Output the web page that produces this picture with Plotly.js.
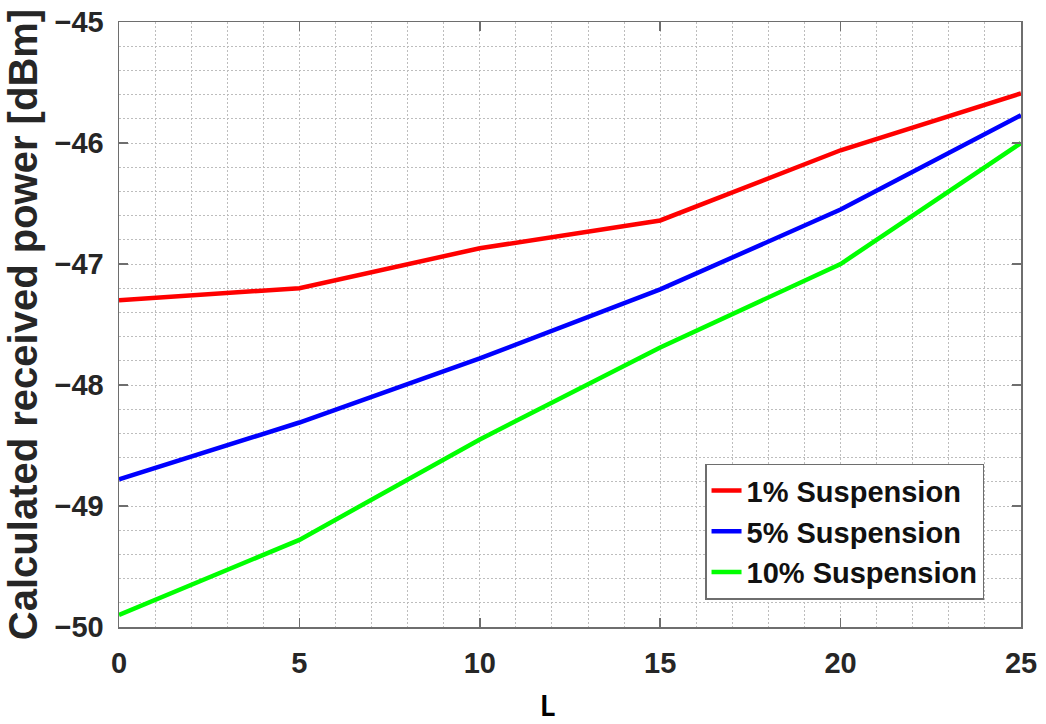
<!DOCTYPE html>
<html>
<head>
<meta charset="utf-8">
<script src="https://cdn.plot.ly/plotly-3.0.1.min.js"></script>
<style>
  html, body { margin: 0; padding: 0; background: #fff; }
  #chart { width: 1046px; height: 724px; }
</style>
</head>
<body>
<div id="chart"></div>
<script>
// Sweep of L and the calculated received power for each suspension level
const L = [0, 5, 10, 15, 20, 25];
const suspension1 = [-47.30, -47.20, -46.87, -46.64, -46.06, -45.59];
const suspension5 = [-48.78, -48.31, -47.78, -47.21, -46.55, -45.77];
const suspension10 = [-49.90, -49.28, -48.45, -47.69, -47.00, -46.00];
const seriesNames = ['1% Suspension', '5% Suspension', '10% Suspension'];
const seriesColors = ['#ff0000', '#0000ff', '#00ff00'];

const font = 'Liberation Sans, Arial, sans-serif';
const textColor = '#262626';
const gridColor = '#bdbdbd';
const frameColor = '#6e6e6e';

const traces = [suspension1, suspension5, suspension10].map((ys, i) => ({
  x: L,
  y: ys,
  name: seriesNames[i],
  type: 'scatter',
  mode: 'lines',
  line: { color: seriesColors[i], width: 4.5 }
}));

const axisCommon = {
  showline: true,
  mirror: 'ticks',
  linecolor: frameColor,
  linewidth: 1.5,
  ticks: 'inside',
  ticklen: 9,
  tickwidth: 1.5,
  tickcolor: frameColor,
  showgrid: true,
  gridcolor: gridColor,
  gridwidth: 1,
  griddash: '2px,2px',
  zeroline: false,
  tickfont: { family: font, size: 29, color: textColor, weight: 'bold' }
};

const layout = {
  width: 1046,
  height: 724,
  margin: { l: 119, r: 25, t: 22, b: 97 },
  paper_bgcolor: '#ffffff',
  plot_bgcolor: '#ffffff',
  showlegend: true,
  xaxis: Object.assign({}, axisCommon, {
    range: [0, 25],
    dtick: 5,
    tick0: 0,
    ticklabelstandoff: 10,
    minor: { dtick: 1, tick0: 0, showgrid: true, gridcolor: gridColor, gridwidth: 1, griddash: '2px,2px', ticks: '' }
  }),
  yaxis: Object.assign({}, axisCommon, {
    range: [-50, -45],
    dtick: 1,
    tick0: -50,
    ticklabelstandoff: 8,
    minor: { dtick: 0.2, tick0: -50, showgrid: true, gridcolor: gridColor, gridwidth: 1, griddash: '2px,2px', ticks: '' },
    title: {
      text: 'Calculated received power [dBm]',
      font: { family: font, size: 40, color: textColor, weight: 'bold' },
      standoff: 4
    }
  }),
  legend: {
    x: 0.6497,
    y: 0.27,
    xanchor: 'left',
    yanchor: 'top',
    bgcolor: '#ffffff',
    bordercolor: frameColor,
    borderwidth: 1.5,
    font: { family: font, size: 29, color: '#111111', weight: 'bold' },
    tracegroupgap: 0
  },
  annotations: [{
    text: 'L',
    xref: 'paper',
    yref: 'paper',
    x: 0.4756,
    y: -0.1285,
    xanchor: 'center',
    yanchor: 'middle',
    showarrow: false,
    font: { family: 'Lato, Open Sans, sans-serif', size: 29, color: '#000000', weight: 'bold' }
  }]
};

Plotly.newPlot('chart', traces, layout, { displayModeBar: false, staticPlot: true });
</script>
</body>
</html>
